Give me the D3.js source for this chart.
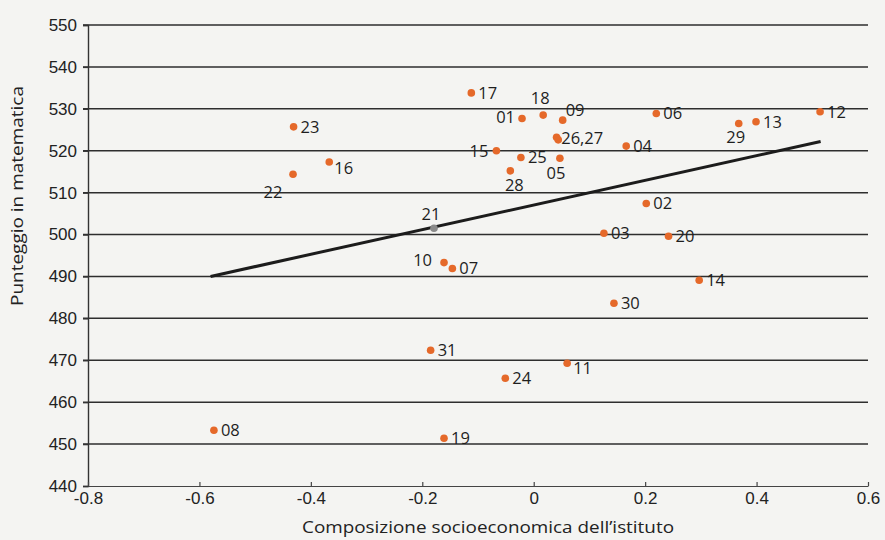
<!DOCTYPE html>
<html>
<head>
<meta charset="utf-8">
<script src="https://cdn.jsdelivr.net/npm/d3@7"></script>
<style>
  body { margin: 0; background: #f4f4f2; }
  svg { display: block; font-family: "Open Sans", "Noto Sans", sans-serif; }
  .tick text { font-size: 17px; fill: #222; }
  .lbl { font-size: 16.5px; fill: #1e1e1e; }
  .title { font-size: 16.5px; fill: #222; }
</style>
</head>
<body>
<svg id="container"></svg>
<script>
// schools: id, socio-economic composition, math score
var ids    = ["01","02","03","04","05","06","07","08","09","10","11","12","13","14","15","16","17","18","19","20","21","22","23","24","25","26,27","28","29","30","31"];
var xVals  = [-0.021, 0.202, 0.126, 0.166, 0.047, 0.220, -0.146, -0.574, 0.052, -0.161, 0.060, 0.514, 0.399, 0.297, -0.067, -0.367, -0.112, 0.017, -0.161, 0.242, -0.179, -0.432, -0.431, -0.051, -0.023, 0.044, -0.042, 0.368, 0.144, -0.185];
var yVals  = [527.7, 507.4, 500.3, 521.1, 518.2, 528.9, 491.9, 453.3, 527.3, 493.3, 469.3, 529.3, 526.9, 489.1, 520.0, 517.3, 533.8, 528.5, 451.4, 499.6, 501.5, 514.4, 525.7, 465.7, 518.4, 522.6, 515.2, 526.5, 483.6, 472.4];
// second dot of the "26,27" pair
var extraX = [0.041];
var extraY = [523.2];
// regression line end points
var fitX = [-0.58, 0.515];
var fitY = [490.0, 522.2];

var xTicks = [-0.8, -0.6, -0.4, -0.2, 0, 0.2, 0.4, 0.6];
var yTicks = [440, 450, 460, 470, 480, 490, 500, 510, 520, 530, 540, 550];

// label placement around the dot: [dx, dy, anchor]
var place = {
  "18": [-3, -17, "middle"], "01": [-7, -1, "end"], "09": [3, -10, "start"],
  "15": [-8, 0, "end"], "05": [-4, 15, "middle"], "28": [4, 14, "middle"],
  "29": [-3, 14, "middle"], "21": [-3, -14, "middle"], "10": [-12, -2, "end"],
  "22": [-20, 18, "middle"], "16": [5, 6, "start"], "11": [6, 5, "start"],
  "26,27": [3, -2, "start"]
};

var W = 885, H = 540;
var margin = {top: 25, right: 17, bottom: 54, left: 88};
var w = W - margin.left - margin.right,
    h = H - margin.top - margin.bottom;

var svg = d3.select("#container").attr("width", W).attr("height", H);
svg.append("rect").attr("width", W).attr("height", H).attr("fill", "#f4f4f2");

var g = svg.append("g").attr("transform", "translate(" + margin.left + "," + margin.top + ")");

var xScale = d3.scaleLinear().domain([-0.8, 0.6]).range([0, w]);
var yScale = d3.scaleLinear().domain([440, 550]).range([h, 0]);

// horizontal gridlines
g.append("g")
  .selectAll("line")
  .data(yTicks.slice(1))
  .enter().append("line")
  .attr("x1", -5).attr("x2", w)
  .attr("y1", d => yScale(d)).attr("y2", d => yScale(d))
  .attr("stroke", "#2e2e2e").attr("stroke-width", 1.5);

// y axis
var gY = g.append("g")
  .call(d3.axisLeft(yScale).tickValues(yTicks).tickSize(5).tickPadding(6).tickFormat(d3.format("d")));
gY.select(".domain").attr("stroke", "#333").attr("stroke-width", 1.4);
gY.selectAll(".tick line").attr("stroke", "#333").attr("stroke-width", 1.4);

// x axis (hyphen minus as in the original)
var gX = g.append("g")
  .attr("transform", "translate(0," + h + ")")
  .call(d3.axisBottom(xScale).tickValues(xTicks).tickSizeInner(-4).tickSizeOuter(0).tickPadding(6)
        .tickFormat(d => d === 0 ? "0" : d3.format(".1f")(d).replace("\u2212", "-")));
gX.select(".domain").attr("stroke", "#444").attr("stroke-width", 1.2);
gX.selectAll(".tick line").attr("stroke", "#444").attr("stroke-width", 1.2);

// regression line
g.append("line")
  .attr("x1", xScale(fitX[0])).attr("y1", yScale(fitY[0]))
  .attr("x2", xScale(fitX[1])).attr("y2", yScale(fitY[1]))
  .attr("stroke", "#1c1c1c").attr("stroke-width", 3);

// points
var pts = ids.map((d, i) => ({id: d, x: xVals[i], y: yVals[i]}));
var extra = extraX.map((d, i) => ({x: d, y: extraY[i]}));

g.selectAll(".dot")
  .data(pts.concat(extra))
  .enter().append("circle")
  .attr("class", "dot")
  .attr("cx", d => xScale(d.x))
  .attr("cy", d => yScale(d.y))
  .attr("r", 3.8)
  .attr("fill", d => d.id === "21" ? "#8a8a8a" : "#e5692a");

// labels
g.selectAll(".lbl")
  .data(pts)
  .enter().append("text")
  .attr("class", "lbl")
  .attr("x", d => xScale(d.x) + (place[d.id] ? place[d.id][0] : 7))
  .attr("y", d => yScale(d.y) + (place[d.id] ? place[d.id][1] : 0))
  .attr("dy", "0.35em")
  .attr("text-anchor", d => place[d.id] ? place[d.id][2] : "start")
  .text(d => d.id);

// axis titles
svg.append("text")
  .attr("class", "title")
  .attr("transform", "translate(23,196) rotate(-90)")
  .attr("text-anchor", "middle")
  .attr("textLength", 220)
  .attr("lengthAdjust", "spacingAndGlyphs")
  .text("Punteggio in matematica");

svg.append("text")
  .attr("class", "title")
  .attr("x", 488).attr("y", 533)
  .attr("text-anchor", "middle")
  .attr("textLength", 372)
  .attr("lengthAdjust", "spacingAndGlyphs")
  .text("Composizione socioeconomica dell\u2019istituto");
</script>
</body>
</html>
